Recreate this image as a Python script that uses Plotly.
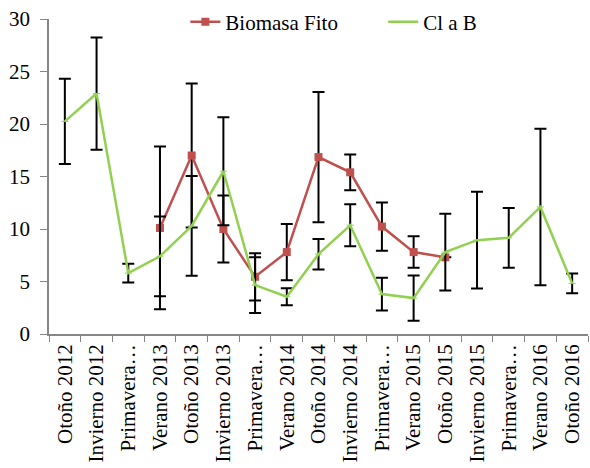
import plotly.graph_objects as go

# Seasonal sampling periods
categories = [
    "Otoño 2012", "Invierno 2012", "Primavera 2012", "Verano 2013", "Otoño 2013",
    "Invierno 2013", "Primavera 2013", "Verano 2014", "Otoño 2014", "Invierno 2014",
    "Primavera 2014", "Verano 2015", "Otoño 2015", "Invierno 2015", "Primavera 2015",
    "Verano 2016", "Otoño 2016",
]
tick_labels = [
    "Otoño 2012", "Invierno 2012", "Primavera…", "Verano 2013", "Otoño 2013",
    "Invierno 2013", "Primavera…", "Verano 2014", "Otoño 2014", "Invierno 2014",
    "Primavera…", "Verano 2015", "Otoño 2015", "Invierno 2015", "Primavera…",
    "Verano 2016", "Otoño 2016",
]

# Phytoplankton biomass (Verano 2013 – Otoño 2015)
biomasa_cats = categories[3:13]
biomasa = [10.1, 17.0, 10.0, 5.45, 7.8, 16.85, 15.4, 10.23, 7.8, 7.3]
biomasa_err = [7.75, 6.85, 3.2, 2.25, 2.68, 6.2, 1.7, 2.3, 1.5, 0]

# Chlorophyll a B
cla = [20.25, 22.9, 5.8, 7.4, 10.3, 15.5, 4.66, 3.55, 7.6, 10.36,
       3.8, 3.42, 7.8, 8.94, 9.16, 12.1, 4.82]
cla_err = [4.05, 5.35, 0.9, 3.8, 4.75, 5.15, 2.65, 0.8, 1.45, 2.0,
           1.55, 2.15, 3.65, 4.6, 2.85, 7.45, 0.95]

RED = "#C0504D"
GREEN = "#92D050"
AXIS = "#868686"
FONT = "Liberation Serif"

fig = go.Figure()
fig.add_trace(go.Scatter(
    x=biomasa_cats, y=biomasa, name="Biomasa Fito", mode="lines+markers",
    line=dict(color=RED, width=2.5),
    marker=dict(symbol="square", size=8, color=RED),
    error_y=dict(type="data", array=biomasa_err, color="black", thickness=2, width=6),
    legend="legend",
))
fig.add_trace(go.Scatter(
    x=categories, y=cla, name="Cl a B", mode="lines+markers",
    line=dict(color=GREEN, width=2.5),
    marker=dict(symbol="line-ew", size=5, color=GREEN, line=dict(color=GREEN, width=1)),
    error_y=dict(type="data", array=cla_err, color="black", thickness=2, width=6),
    legend="legend2",
))

legend_style = dict(orientation="h", xanchor="left", y=1.055, yanchor="top",
                    font=dict(family=FONT, size=21, color="black"),
                    bgcolor="rgba(0,0,0,0)")

fig.update_layout(
    template="none",
    width=590, height=468,
    margin=dict(l=49, r=2, t=19, b=134),
    paper_bgcolor="white", plot_bgcolor="white",
    font=dict(family=FONT, size=21, color="black"),
    showlegend=True,
    legend=dict(x=0.253, **legend_style),
    legend2=dict(x=0.62, **legend_style),
    xaxis=dict(
        type="category", categoryorder="array", categoryarray=categories,
        tickmode="array", tickvals=categories, ticktext=tick_labels,
        tickangle=-90, tickson="boundaries", ticks="outside", ticklen=6,
        tickcolor=AXIS, showline=True, linecolor=AXIS, linewidth=1.5,
        showgrid=False, range=[-0.5, 16.5],
        tickfont=dict(family=FONT, size=21, color="black"),
    ),
    yaxis=dict(
        range=[0, 30], dtick=5, ticks="outside", ticklen=7, tickcolor=AXIS,
        showline=True, linecolor=AXIS, linewidth=1.5, showgrid=False,
        zeroline=False, ticklabelstandoff=6,
        tickfont=dict(family=FONT, size=21, color="black"),
    ),
)

fig.write_html("out.html")
